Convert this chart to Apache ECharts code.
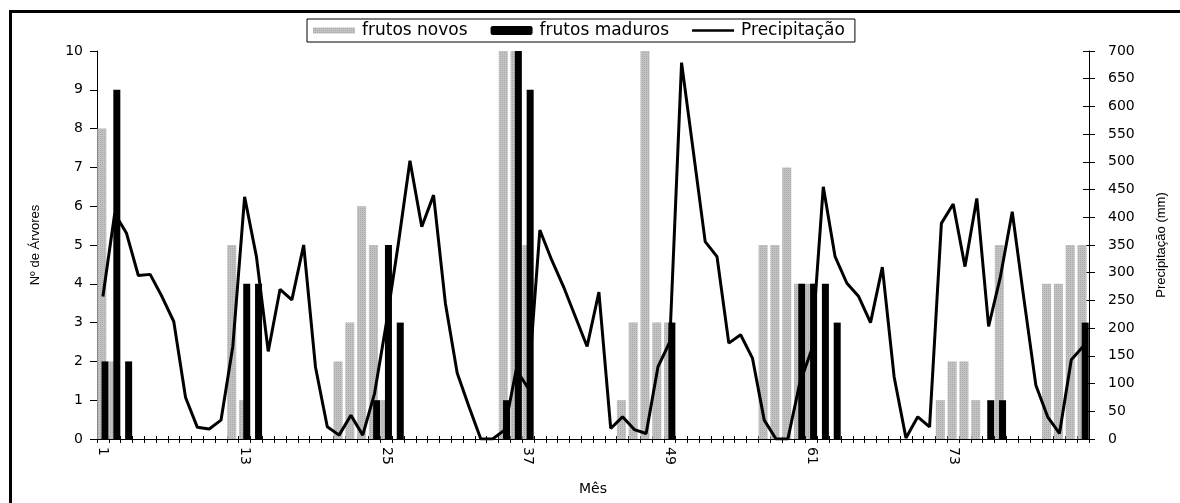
<!DOCTYPE html>
<html>
<head>
<meta charset="utf-8">
<script src="https://cdn.jsdelivr.net/npm/echarts@6/dist/echarts.min.js"></script>
<style>
html,body{margin:0;padding:0;background:#fff;}
#chart{width:1180px;height:503px;}
</style>
</head>
<body>
<div id="chart"></div>
<script>
// Months 1..84
var months = [];
for (var m = 1; m <= 84; m++) months.push(String(m));

var frutosNovos = [
  8,2,0,0,0,0,0,0,0,0,0,5,
  1,0,0,0,0,0,0,0,2,3,6,5,
  1,0,0,0,0,0,0,0,0,0,10,10,
  5,0,0,0,0,0,0,0,1,3,10,3,
  3,0,0,0,0,0,0,0,5,5,7,4,
  4,0,0,0,0,0,0,0,0,0,0,1,
  2,2,1,0,5,0,0,0,4,4,5,5
];

var frutosMaduros = [
  2,9,2,0,0,0,0,0,0,0,0,0,
  4,4,0,0,0,0,0,0,0,0,0,1,
  5,3,0,0,0,0,0,0,0,0,1,10,
  9,0,0,0,0,0,0,0,0,0,0,0,
  3,0,0,0,0,0,0,0,0,0,0,4,
  4,4,3,0,0,0,0,0,0,0,0,0,
  0,0,0,1,1,0,0,0,0,0,0,3
];

var precipitacao = [
  257,407,371,295,297,257,212,75,21,18,34,167,
  437,329,158,270,251,350,130,22,7,43,7,82,
  209,350,502,383,440,245,119,58,0,0,16,125,
  92,377,323,275,221,167,265,19,40,17,10,130,
  175,679,518,356,329,173,188,146,34,0,0,100,
  160,455,329,281,257,210,310,112,2,40,22,389,
  424,311,434,203,293,410,251,97,40,10,143,167
];

var leftTicks = { min: 0, max: 10, interval: 1 };
var rightTicks = { min: 0, max: 700, interval: 50 };

var FONT = 'DejaVu Sans';
var chart = echarts.init(document.getElementById('chart'), null, { renderer: 'canvas' });

var xBase = {
  type: 'category',
  data: months,
  boundaryGap: true,
  position: 'bottom',
  axisLine: { show: true, lineStyle: { color: '#000', width: 1 } },
  splitLine: { show: false }
};

chart.setOption({
  backgroundColor: '#fff',
  animation: false,
  graphic: [{
    type: 'rect',
    shape: { x: 10.5, y: 11.5, width: 1300, height: 700 },
    style: { fill: 'none', stroke: '#000', lineWidth: 3 },
    silent: true,
    z: -1
  }],
  legend: {
    top: 19,
    left: 307,
    borderColor: '#000',
    borderWidth: 1,
    padding: [3, 10, 3, 6],
    itemGap: 23,
    itemWidth: 42,
    itemHeight: 9,
    symbolKeepAspect: true,
    textStyle: { fontFamily: FONT, fontSize: 17, color: '#000', padding: [0, 0, 0, 2] },
    data: [
      { name: 'frutos novos', icon: 'path://M0,0 L42,0 L42,6 L0,6 Z' },
      { name: 'frutos maduros', icon: 'roundRect' },
      { name: 'Precipitação', icon: 'path://M0,0 L42,0 L42,2.4 L0,2.4 Z' }
    ]
  },
  grid: { left: 97, right: 91, top: 51, bottom: 64, containLabel: false },
  xAxis: [
    Object.assign({}, xBase, {
      name: 'Mês',
      nameLocation: 'middle',
      nameGap: 43,
      nameTextStyle: { fontFamily: FONT, fontSize: 14, color: '#000' },
      axisTick: { show: true, interval: 0, length: 4, inside: false, lineStyle: { color: '#000' } },
      axisLabel: {
        show: true, interval: 11, rotate: -90, margin: 8,
        fontFamily: FONT, fontSize: 14, color: '#000'
      }
    }),
    Object.assign({}, xBase, {
      axisTick: { show: true, interval: 0, length: 3, inside: true, lineStyle: { color: '#000' } },
      axisLabel: { show: false }
    })
  ],
  yAxis: [
    {
      type: 'value',
      position: 'left',
      min: leftTicks.min, max: leftTicks.max, interval: leftTicks.interval,
      name: 'Nº de Árvores',
      nameLocation: 'middle',
      nameRotate: 90,
      nameGap: 55,
      nameTextStyle: { fontFamily: 'Liberation Sans', fontSize: 13, color: '#000' },
      axisLine: { show: true, lineStyle: { color: '#000' } },
      axisTick: { show: true, length: 7, lineStyle: { color: '#000' } },
      axisLabel: { fontFamily: FONT, fontSize: 14, color: '#000', margin: 14 },
      splitLine: { show: false }
    },
    {
      type: 'value',
      position: 'right',
      min: rightTicks.min, max: rightTicks.max, interval: rightTicks.interval,
      name: 'Precipitação (mm)',
      nameLocation: 'middle',
      nameRotate: 90,
      nameGap: 66,
      nameTextStyle: { fontFamily: 'Liberation Sans', fontSize: 13, color: '#000' },
      axisLine: { show: true, lineStyle: { color: '#000' } },
      axisTick: { show: true, length: 6, lineStyle: { color: '#000' } },
      axisLabel: { fontFamily: FONT, fontSize: 14, color: '#000', margin: 19 },
      splitLine: { show: false }
    },
    {
      type: 'value',
      position: 'right',
      min: rightTicks.min, max: rightTicks.max, interval: rightTicks.interval,
      axisLine: { show: false },
      axisTick: { show: true, inside: true, length: 6, lineStyle: { color: '#000' } },
      axisLabel: { show: false },
      splitLine: { show: false }
    }
  ],
  series: [
    {
      name: 'frutos novos',
      type: 'bar',
      xAxisIndex: 0,
      yAxisIndex: 0,
      data: frutosNovos,
      barWidth: 9,
      barGap: '-53%',
      itemStyle: {
        color: '#c2c2c2',
        decal: {
          symbol: 'rect',
          symbolSize: 1,
          dashArrayX: [1, 1],
          dashArrayY: [1, 1],
          color: 'rgba(150,150,150,0.55)'
        }
      },
      z: 2
    },
    {
      name: 'frutos maduros',
      type: 'bar',
      xAxisIndex: 0,
      yAxisIndex: 0,
      data: frutosMaduros,
      barWidth: 7,
      itemStyle: { color: '#000' },
      z: 3
    },
    {
      name: 'Precipitação',
      type: 'line',
      xAxisIndex: 0,
      yAxisIndex: 1,
      data: precipitacao,
      symbol: 'none',
      showSymbol: false,
      lineStyle: { color: '#000', width: 3 },
      itemStyle: { color: '#000' },
      z: 5
    }
  ]
});
</script>
</body>
</html>
